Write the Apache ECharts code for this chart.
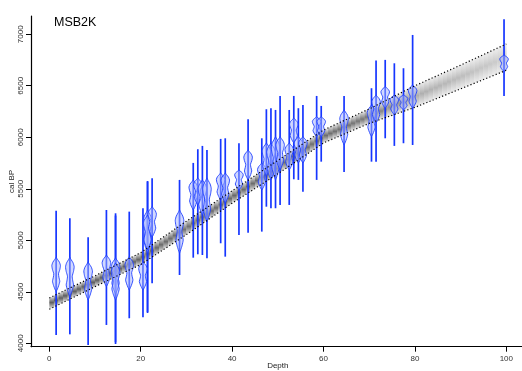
<!DOCTYPE html>
<html>
<head>
<meta charset="utf-8">
<script src="https://cdn.jsdelivr.net/npm/echarts@6/dist/echarts.min.js"></script>
<style>
  html, body { margin: 0; padding: 0; background: #fff; }
  #chart { width: 522px; height: 371px; }
</style>
</head>
<body>
<div id="chart"></div>
<script>
// age-depth model band (95% range)
var bandDepth = [0, 10, 20, 30, 40, 50, 60, 70, 80, 90, 100];
var bandUpper = [4440, 4655, 4880, 5185, 5480, 5775, 6070, 6275, 6500, 6700, 6905];
var bandLower = [4330, 4550, 4765, 5055, 5360, 5645, 5945, 6135, 6290, 6470, 6650];

// dated levels: full range line + main probability blob
var dateDepth = [1.5, 4.5, 8.5, 12.5, 14.5, 14.5, 17.5, 20.5, 21.5, 21.5, 22.5, 28.5, 31.5, 32.5, 33.5, 34.5, 37.5, 38.5, 41.5, 43.5,
                 46.5, 47.5, 48.5, 49.5, 50.5, 52.5, 53.5, 54.5, 55.5, 58.5, 59.5, 64.5, 70.5, 71.5, 73.5, 75.5, 77.5, 79.5, 99.5];
var lineOld   = [5287, 5214, 5029, 5294, 5262, 5240, 5278, 5311, 5569, 5575, 5602, 5586, 5751, 5884, 5916, 5877, 5984, 5990, 5942, 6175,
                 5990, 6272, 6282, 6265, 6401, 6265, 6401, 6282, 6314, 6401, 6304, 6401, 6476, 6744, 6751, 6718, 6670, 6993, 7146];
var lineYoung = [4081, 4087, 3983, 4178, 3993, 4010, 4243, 4252, 4294, 4304, 4583, 4663, 4831, 4864, 4857, 4825, 4971, 4841, 5051, 5074,
                 5084, 5326, 5311, 5311, 5343, 5343, 5592, 5586, 5472, 5586, 5763, 5663, 5763, 5763, 5990, 5916, 5942, 5925, 6401];
var blobOld   = [4835, 4835, 4790, 4857, 4830, 4780, 4841, 4792, 5294, 5245, 5327, 5294, 5586, 5605, 5586, 5605, 5654, 5654, 5683, 5877,
                 5751, 5945, 5945, 6006, 6006, 5945, 6187, 6006, 6006, 6200, 6200, 6266, 6314, 6411, 6492, 6411, 6411, 6508, 6799];
var blobYoung = [4501, 4452, 4420, 4550, 4480, 4420, 4517, 4517, 4876, 4906, 5030, 4876, 5294, 5343, 5246, 5178, 5391, 5362, 5488, 5586,
                 5488, 5625, 5586, 5586, 5683, 5683, 5945, 5750, 5750, 6006, 6006, 5926, 6006, 6139, 6282, 6217, 6265, 6282, 6637];

var depthTicks = [0, 20, 40, 60, 80, 100];
var ageTicks = [4000, 4500, 5000, 5500, 6000, 6500, 7000];

var FONT = 'Liberation Sans';
var chart = echarts.init(document.getElementById('chart'));

// blob outline profile (shape of the glyph)
var profT = [0, 0.06, 0.14, 0.24, 0.36, 0.48, 0.58, 0.7, 0.82, 0.92, 1];
var profF = [0, 0.3, 0.75, 1, 0.85, 0.55, 0.65, 0.85, 0.6, 0.3, 0];

var bandItem = function (params, api) {
    var i = params.dataIndex;
    if (i >= bandDepth.length - 1) return null;
    var a1 = api.coord([bandDepth[i], bandUpper[i]]);
    var a2 = api.coord([bandDepth[i], bandLower[i]]);
    var b1 = api.coord([bandDepth[i + 1], bandUpper[i + 1]]);
    var b2 = api.coord([bandDepth[i + 1], bandLower[i + 1]]);
    var kids = [];
    var n = 10;
    for (var k = 0; k < n; k++) {
        var s0 = k / n, s1 = (k + 1) / n;
        var x0 = a1[0] + (b1[0] - a1[0]) * s0, x1 = a1[0] + (b1[0] - a1[0]) * s1;
        var t0 = a1[1] + (b1[1] - a1[1]) * s0, t1 = a1[1] + (b1[1] - a1[1]) * s1;
        var d0 = a2[1] + (b2[1] - a2[1]) * s0, d1 = a2[1] + (b2[1] - a2[1]) * s1;
        var thick = ((d0 - t0) + (d1 - t1)) / 2;
        var g = Math.round(95 + Math.max(0, Math.min(1, (thick - 11) / 15)) * 110);
        var mid = 'rgb(' + g + ',' + g + ',' + g + ')';
        kids.push({
            type: 'polygon',
            shape: {points: [[x0, t0], [x1 + 0.3, t1], [x1 + 0.3, d1], [x0, d0]]},
            style: {
                fill: new echarts.graphic.LinearGradient(0, Math.min(t0, t1), 0, Math.max(d0, d1), [
                    {offset: 0, color: '#f0f0f0'},
                    {offset: 0.5, color: mid},
                    {offset: 1, color: '#f0f0f0'}
                ], true)
            }
        });
    }
    return {type: 'group', children: kids};
};

var lineItem = function (params, api) {
    var p1 = api.coord([api.value(0), api.value(1)]);
    var p2 = api.coord([api.value(0), api.value(2)]);
    return {
        type: 'line',
        shape: {x1: p1[0], y1: p1[1], x2: p2[0], y2: p2[1]},
        style: {stroke: '#1636ff', lineWidth: 1.7}
    };
};

var blobItem = function (params, api) {
    var top = api.coord([api.value(0), api.value(3)]);
    var bot = api.coord([api.value(0), api.value(4)]);
    var hw = 4.3;
    var right = [], left = [];
    for (var k = 0; k < profT.length; k++) {
        var y = top[1] + (bot[1] - top[1]) * profT[k];
        right.push([top[0] + hw * profF[k], y]);
        left.unshift([top[0] - hw * profF[k], y]);
    }
    return {
        type: 'polygon',
        shape: {points: right.concat(left), smooth: 0.2},
        style: {fill: 'rgba(165,180,255,0.5)', stroke: '#1f3fff', lineWidth: 0.9}
    };
};

var dateData = dateDepth.map(function (d, i) {
    return [d, lineOld[i], lineYoung[i], blobOld[i], blobYoung[i]];
});

var plain = function (v) { return String(v); };

var option = {
    animation: false,
    graphic: [{
        type: 'text', left: 54, top: 16,
        style: {text: 'MSB2K', font: '12.5px ' + FONT, fill: '#000'}
    }],
    grid: {left: 31, top: 16, width: 493.6, height: 330.7, containLabel: false, outerBoundsMode: 'none'},
    xAxis: {
        type: 'value', min: -4, max: 104,
        name: 'Depth', nameLocation: 'middle', nameGap: 15, nameMoveOverlap: false,
        nameTextStyle: {fontFamily: FONT, fontSize: 8, color: '#222'},
        axisLine: {onZero: false, lineStyle: {color: '#000', width: 1.2}},
        axisTick: {customValues: depthTicks, length: 5, lineStyle: {color: '#000'}},
        axisLabel: {customValues: depthTicks, formatter: plain, fontFamily: FONT, fontSize: 8, color: '#333', margin: 8},
        splitLine: {show: false}
    },
    yAxis: {
        type: 'value', min: 3967, max: 7177,
        name: 'cal BP', nameLocation: 'middle', nameGap: 15, nameRotate: 90, nameMoveOverlap: false,
        nameTextStyle: {fontFamily: FONT, fontSize: 8, color: '#222'},
        axisLine: {show: true, onZero: false, lineStyle: {color: '#000', width: 1.2}},
        axisTick: {show: true, customValues: ageTicks, length: 5, lineStyle: {color: '#000'}},
        axisLabel: {customValues: ageTicks, formatter: plain, rotate: 90, fontFamily: FONT, fontSize: 8, color: '#333', margin: 6},
        splitLine: {show: false}
    },
    series: [{
        type: 'custom', z: 1, renderItem: bandItem,
        data: bandDepth.map(function (d, i) { return [d, bandUpper[i], bandLower[i]]; }),
        encode: {x: 0, y: [1, 2]}
    }, {
        type: 'custom', z: 2, renderItem: lineItem, data: dateData,
        encode: {x: 0, y: [1, 2]}
    }, {
        type: 'custom', z: 3, renderItem: blobItem, data: dateData,
        encode: {x: 0, y: [3, 4]}
    }, {
        type: 'line', z: 4, showSymbol: false, silent: true,
        data: bandDepth.map(function (d, i) { return [d, bandUpper[i]]; }),
        lineStyle: {color: '#000', width: 1.2, type: [1.2, 2.2]}
    }, {
        type: 'line', z: 4, showSymbol: false, silent: true,
        data: bandDepth.map(function (d, i) { return [d, bandLower[i]]; }),
        lineStyle: {color: '#000', width: 1.2, type: [1.2, 2.2]}
    }]
};
chart.setOption(option);
</script>
</body>
</html>
